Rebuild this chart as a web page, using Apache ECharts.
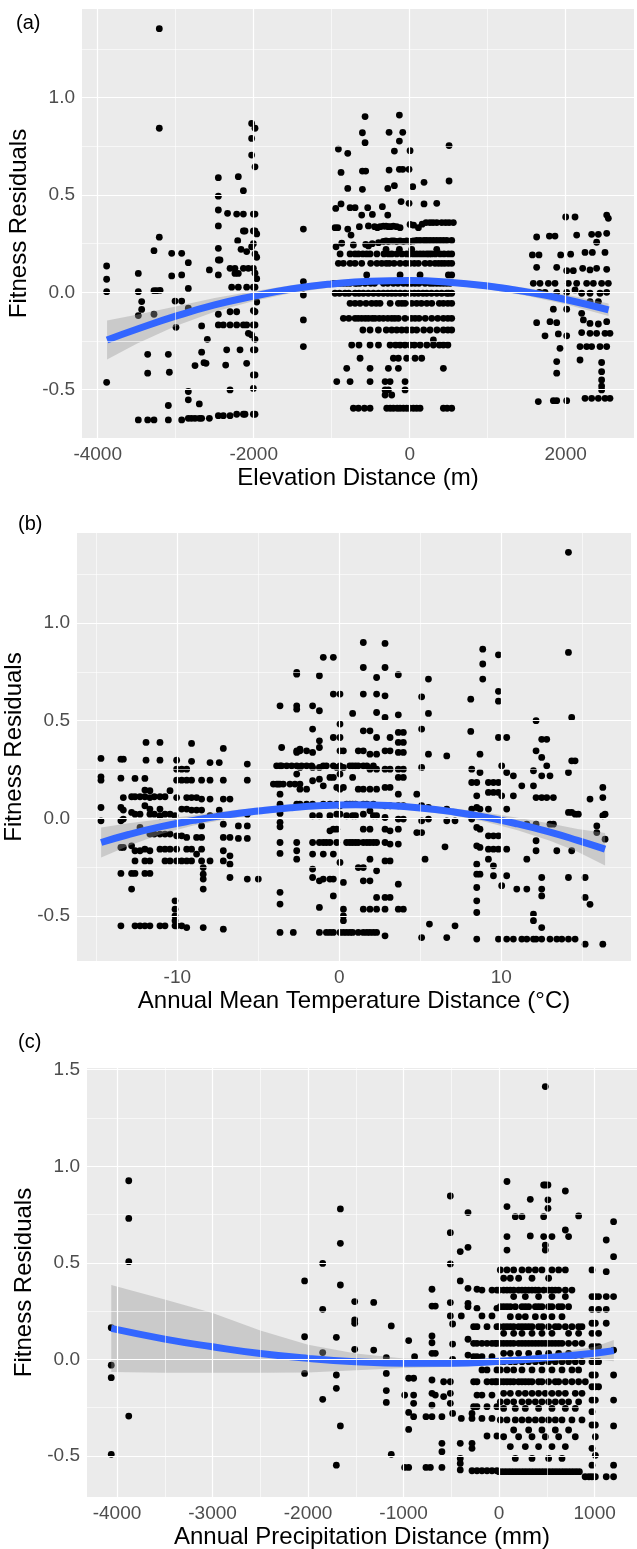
<!DOCTYPE html>
<html><head><meta charset="utf-8">
<script src="https://cdn.jsdelivr.net/npm/echarts@6/dist/echarts.min.js"></script>
<style>html,body{margin:0;padding:0;background:#fff}#c{width:637px;height:1549px}</style>
</head><body><div id="c"></div>
<script>
// ---------- Panel (a): Elevation distance ----------
const elevLeftCols = [
[-3885,[0.135,0.067,0.003,-0.463]],
[-3479,[0.097,0.003,-0.120,-0.656]],
[-3436,[-0.048,-0.088]],
[-3359,[-0.319,-0.416,-0.656]],
[-3278,[0.214,0.008,-0.113,-0.656]],
[-3245,[0.008]],
[-3210,[1.355,0.843,0.283]],
[-3200,[0.010]],
[-3094,[-0.319,-0.582,-0.656]],
[-3081,[-0.411]],
[-3051,[0.200,0.084]],
[-3008,[-0.045]],
[-2996,[-0.180]],
[-2923,[0.200,0.089,-0.045,-0.656]],
[-2838,[0.152,0.020,-0.082,-0.510,-0.553,-0.648]],
[-2797,[-0.648]],
[-2752,[-0.377,-0.648]],
[-2697,[-0.574,-0.648]],
[-2667,[-0.308,-0.173,-0.648]],
[-2637,[-0.362]],[-2611,[-0.365]],[-2594,[-0.242]],
[-2568,[0.115,-0.648]],
[-2453,[0.589,0.494,0.423,0.341,0.226,0.166,0.089,-0.113,-0.168,-0.634]],
[-2432,[0.166]],
[-2389,[-0.168,-0.634]],
[-2359,[-0.374]],[-2346,[-0.296]],[-2335,[0.406]],
[-2303,[0.123,-0.100,-0.168,-0.502,-0.634]],
[-2282,[0.026]],
[-2240,[0.123,0.097]],
[-2218,[0.402,-0.100,-0.168,-0.627]],
[-2205,[0.265]],
[-2197,[0.594,0.097,0.026]],
[-2175,[-0.296]],[-2162,[0.221]],
[-2132,[0.522,0.402,0.315,0.123,-0.168,-0.627]],
[-2111,[0.315,-0.627]],
[-2090,[0.209,0.026,-0.168,-0.365]],
[-2068,[0.123,-0.211]],
[-2026,[0.868,0.791,0.705,0.234,-0.219]],
[-2004,[0.402,0.315,0.250,0.123,0.026,-0.094,-0.168,-0.296,-0.425,-0.494,-0.627]],
[-1983,[0.843,0.645,0.402,0.315,0.197,0.098,0.026,-0.100,-0.168,-0.242,-0.296,-0.425,-0.627]],
[-1961,[0.300,0.180,0.070,-0.050]],
[-1363,[0.325,0.055,-0.014,-0.142,-0.279]]
];
const elevUpperPts = [
[-572,0.903],[-132,0.911],[-606,0.820],[-572,0.769],[-264,0.822],[-89,0.822],[-132,0.777],[-914,0.736],[-794,0.714],[-196,0.726],[5,0.728],[505,0.754],
[-880,0.616],[-606,0.623],[-564,0.623],[-264,0.628],[-132,0.632],[-89,0.632],[-8,0.632],
[-794,0.534],[-606,0.529],[-281,0.534],[-196,0.548],[39,0.543],[184,0.565],[505,0.572],
[-110,0.466],[-8,0.457],[184,0.454],[347,0.457],
[-948,0.431],[-880,0.454],[-764,0.435],[-700,0.435],[-538,0.435],[-350,0.440],
[-615,0.397],[-478,0.400],[-281,0.397],
[-957,0.332],[-922,0.332],[-794,0.325],[-645,0.337],[-529,0.341],[-450,0.337],[-414,0.332],[-380,0.337],[-337,0.340],[-303,0.340],[-273,0.337],[-245,0.337],[-209,0.340],[-166,0.337],[-123,0.332],[5,0.349],[50,0.345],[112,0.332],[160,0.350],[210,0.358],[260,0.358],[300,0.358],[347,0.358],[411,0.358],[460,0.358],[505,0.358],[560,0.358],
[-752,0.294],
[-944,0.234],[-871,0.252],[-722,0.243],[-564,0.246],[-529,0.238],[-480,0.250],[-400,0.255],[-337,0.262],[-303,0.264],[-273,0.262],[-230,0.264],[-200,0.264],[-166,0.262],[-123,0.264],[-80,0.262],[-38,0.264],[5,0.262],[48,0.264],[90,0.266],[133,0.266],[184,0.266],[219,0.266],[261,0.266],[304,0.266],[347,0.266],[390,0.266],[432,0.266],[475,0.266],[539,0.266],
[-303,0.221],[-132,0.221],[26,0.221],[347,0.221]
];
const elevCentralRows = [
[0.197,[-892,-764,-700,-657,-600,-551,-508,-420,-330,-273,-230,-166,-100,-38,0,48,90,133,175,219,250,283,330,390,440,496,539]],
[0.149,[-914,-850,-764,-700,-615,-500,-420,-358,-300,-261,-200,-123,-50,5,60,112,197,260,325,370,411,450,496,539]],
[0.089,[-551,-123,133,496,539]],
[0.046,[-978,-930,-892,-850,-807,-764,-700,-679,-640,-572,-500,-450,-337,-280,-209,-150,-80,-30,20,69,120,197,260,300,347,390,432,475,518]],
[-0.005,[-957,-900,-829,-780,-700,-650,-594,-530,-465,-400,-337,-280,-230,-180,-123,-60,5,60,112,170,219,280,347,410,475,500,539]],
[-0.057,[-764,-700,-636,-560,-487,-430,-380,-250,-145,-100,-59,26,90,150,220,283,380,432,490,539]],
[-0.134,[-850,-780,-700,-660,-615,-570,-529,-480,-444,-390,-337,-280,-230,-190,-145,-60,20,69,120,200,283,360,432,490,539]],
[-0.194,[-600,-508,-401,-300,-230,-166,-102,-38,30,90,180,261,350,432,490,539]],
[-0.245,[304]],
[-0.271,[-743,-650,-508,-400,-251,-180,-123,-60,5,60,133,220,304,380,432,490]],
[-0.339,[-636,-209,-145,-38,69,154]],
[-0.391,[-807,-508,-273,-145,432]],
[-0.459,[-935,-764,-508,-315,-251,-59]],
[-0.502,[-315,-273,-59]],
[-0.528,[-315,-230]],
[-0.596,[-722,-657,-580,-508,-294,-250,-209,-160,-123,-80,-38,0,48,90,133,432,480,539]]
];
const elevRightPts = [
[1628,0.284],[1791,0.289],[1863,0.289],
[2000,0.387],[2120,0.387],[2526,0.397],[2547,0.380],
[2141,0.294],[2333,0.298],[2419,0.298],[2526,0.303],[2397,0.257],
[1573,0.192],[1658,0.192],[1936,0.192],[2064,0.196],[2248,0.205],[2342,0.205],[2504,0.205],
[1628,0.128],[1885,0.128],[2013,0.111],[2098,0.111],[2218,0.123],[2312,0.115],[2397,0.123],[2526,0.118],
[1585,0.046],[1671,0.046],[1778,0.046],[1863,0.046],[2034,0.046],[2141,0.046],[2269,0.046],[2355,0.046],[2461,0.046],[2547,0.046],
[1662,0.0],[1735,0.0],[1885,0.0],[2013,0.0],[2120,0.012],[2205,-0.005],[2312,-0.005],[2440,-0.005],[2526,0.0],
[2312,-0.048],[2419,-0.048],[1842,-0.087],[2013,-0.087],[2205,-0.108],
[1628,-0.156],[1799,-0.151],[1885,-0.156],[2227,-0.142],[2312,-0.160],[2419,-0.163],[2526,-0.151],
[1735,-0.224],[1906,-0.214],[2013,-0.224],[2205,-0.207],[2312,-0.211],[2397,-0.211],[2504,-0.211],[2568,-0.211],
[1927,-0.288],[2184,-0.279],[2269,-0.279],[2333,-0.279],[2440,-0.279],[2526,-0.279],
[2184,-0.348],[1885,-0.356],[2461,-0.361],
[1885,-0.416],[2461,-0.408],[2461,-0.451],[2461,-0.482],[2461,-0.502],
[1649,-0.562],[1842,-0.557],[1885,-0.557],[2013,-0.557],
[2248,-0.545],[2333,-0.545],[2419,-0.545],[2504,-0.545],[2568,-0.545]
];
const elevFitX = [-3880,-3500,-3000,-2500,-2000,-1500,-1000,-500,0,500,1000,1500,2000,2550];
const elevFit  = [-0.245,-0.19,-0.123,-0.065,-0.02,0.018,0.043,0.057,0.06,0.052,0.032,0.002,-0.037,-0.09];
const elevLo   = [-0.345,-0.265,-0.173,-0.100,-0.045,-0.002,0.026,0.042,0.045,0.037,0.015,-0.018,-0.062,-0.122];
const elevHi   = [-0.145,-0.115,-0.073,-0.030,0.005,0.038,0.060,0.072,0.075,0.067,0.049,0.022,-0.012,-0.058];

// ---------- Panel (b): Annual mean temperature distance ----------
const tempCols = [
[-14.71,[0.307,0.213,0.196,0.056,-0.012]],
[-13.48,[0.303,0.206,0.056,-0.012,-0.148,-0.281,-0.549]],
[-13.33,[0.303,0.107,0.043,-0.003,-0.148]],
[-12.82,[0.111,0.031,-0.140,-0.281,-0.361]],
[-12.61,[0.205,0.111,0.022,-0.165,-0.217,-0.281,-0.549]],
[-12.30,[0.111,0.022,-0.046,-0.165,-0.549]],
[-12.00,[0.205,0.145,0.111,0.065,-0.157,-0.217,-0.281,-0.549]],
[-11.93,[0.389,0.298]],
[-11.69,[0.142,0.107,0.048,0.022,-0.080,-0.165,-0.217,-0.281,-0.549]],
[-11.42,[0.111,0.022,-0.080]],
[-11.07,[0.389,0.298,0.111,0.048,0.014,-0.080,-0.157,-0.549]],
[-10.76,[0.111,0.022,-0.080,-0.157,-0.217,-0.549]],
[-10.45,[0.142,0.022,-0.080,-0.157,-0.217]],
[-10.14,[0.014,-0.421,-0.464,-0.498,-0.523,-0.549]],
[-10.04,[0.298,0.252,0.196,0.107,-0.089,-0.157,-0.217,-0.549]],
[-9.73,[0.252,0.196,0.048,-0.089,-0.217,-0.549]],
[-9.42,[0.252,0.196,0.107,0.048,-0.097,-0.157,-0.217,-0.558]],
[-9.12,[0.384,0.292,0.196,0.107,0.043,-0.157,-0.217]],
[-8.81,[0.107,0.043,-0.097,-0.182]],
[-8.50,[0.196,0.099,0.043,-0.038,-0.097,-0.157,-0.217]],
[-8.40,[-0.251,-0.285,-0.310,-0.361,-0.558]],
[-7.98,[0.286,0.196,0.099,0.014,-0.217]],
[-7.41,[0.286,0.043,0.014]],
[-7.16,[0.358,0.196,0.099,0.014,-0.029,-0.097,-0.165,-0.217,-0.566]],
[-6.75,[0.099,-0.097,-0.191,-0.234,-0.302]],
[-6.23,[-0.038,-0.102]],
[-5.68,[0.278,0.196,0.022,-0.038,-0.102,-0.310]],
[-5.00,[-0.310]],
[-4.07,[0.176]],
[-3.87,[0.269,0.176]],
[-3.77,[0.176]],
[-3.66,[0.576,0.269,0.176,0.124,0.073,0.026,-0.020,-0.043,-0.123,-0.179,-0.378,-0.438,-0.583]],
[-3.56,[0.363,0.269]],
[-3.46,[0.176]],[-3.25,[0.269]],[-3.05,[0.176]],[-2.94,[0.269]],[-2.84,[-0.583]],[-2.74,[0.176]],
[-2.63,[0.747,0.738,0.576,0.559,0.346,0.338,0.269,0.227,0.073,-0.123,-0.165,-0.208]],
[-2.43,[0.355,0.346,0.261,0.176,0.150,0.073]],
[-2.33,[0.269]],
[-2.02,[0.346,0.269,0.150,0.073]],
[-1.71,[0.269]],
[-1.65,[0.576,0.457,0.338,0.261,0.193,0.073,0.014,-0.123,-0.182,-0.259,-0.302]],
[-1.23,[0.730,0.551,0.397,0.363,0.261,0.201,0.014,-0.123,-0.319,-0.455,-0.583]],
[-0.99,[0.824,0.269,0.167,0.073,-0.123,-0.182,-0.310]],
[-0.80,[0.269,-0.123,-0.583]],
[-0.58,[0.210,0.073,0.014,-0.063,-0.123,-0.310,-0.583]],
[-0.37,[0.824,0.636,0.414,0.269,0.210,-0.055,-0.182,-0.310,-0.396,-0.583]],
[-0.16,[0.261,0.159,0.073,0.022,-0.055,-0.123]],
[0.04,[0.636,0.483,0.414,0.346,0.269,0.227,0.150,0.065,0.022,-0.225,-0.583]],
[0.25,[0.346,0.261,0.159,-0.327,-0.464,-0.498,-0.523,-0.583]],
[0.45,[0.073,0.014,-0.123,-0.583]],
[0.65,[0.269,0.073,-0.123,-0.583]],
[0.82,[0.537,0.269,0.210,0.073,0.014,-0.123,-0.583]],
[1.00,[0.269,0.073,0.014,-0.123]],
[1.17,[0.346,0.269,0.150,-0.123,-0.251,-0.583]],
[1.48,[0.900,0.772,0.636,0.448,0.346,0.269,0.150,0.073,0.022,-0.055,-0.123,-0.251,-0.319,-0.464,-0.583]],
[1.70,[0.269,0.073,-0.123,-0.583]],
[1.89,[0.448,0.329,0.252,0.150,0.039,-0.055,-0.123,-0.208,-0.319,-0.464,-0.583]],
[2.10,[0.269,0.073,0.014,-0.123,-0.583]],
[2.30,[0.721,0.636,0.542,0.414,0.329,0.252,0.150,0.014,-0.123,-0.268,-0.404,-0.464,-0.583]],
[2.82,[0.895,0.772,0.627,0.517,0.346,0.252,0.159,0.065,0.005,-0.055,-0.123,-0.217,-0.404,-0.464,-0.600]],
[3.13,[0.414,0.346,0.252,0.159,0.065,-0.063,-0.131,-0.217,-0.404]],
[3.64,[0.735,0.530,0.440,0.389,0.338,0.252,0.210,0.124,0.065,-0.003,-0.055,-0.131,-0.336,-0.464]],
[3.95,[0.440,0.389,0.338,0.252,0.210,0.065,-0.003,-0.464]],
[4.78,[0.124,-0.072]],
[5.08,[0.622,0.457,0.261,0.065,-0.012,-0.072,-0.609]],
[5.29,[-0.208]],
[5.50,[0.713,0.537,0.329,0.056,-0.003]],
[5.56,[-0.540]],
[6.52,[-0.145]],
[6.63,[0.320,0.048,-0.012,-0.609]],
[7.14,[-0.012,-0.549]],
[8.11,[0.610,0.445]],
[8.17,[0.252,0.184,0.048,-0.003]],
[8.48,[0.184,0.116,0.056,-0.046,-0.140,-0.234,-0.285,-0.353,-0.421,-0.481,-0.617]],
[8.68,[0.329,0.235,0.048,-0.055,-0.148,-0.285]],
[8.85,[0.866,0.790,0.713]],
[9.20,[0.184,0.133,0.048,-0.089,-0.157,-0.208]],
[9.51,[0.184,0.133,-0.089,-0.157,-0.242,-0.293]],
[9.82,[0.837,0.650,0.600,0.414,0.184,0.133,-0.089,-0.157,-0.617]],
[10.02,[0.269,0.116,-0.344]],
[10.33,[0.414,0.235,0.048,-0.157,-0.293,-0.617]],
[10.74,[0.218,0.116,-0.617]],
[10.95,[-0.361]],
[11.26,[0.167,-0.617]],
[11.57,[-0.029,-0.208,-0.361,-0.617]],
[11.98,[0.244,0.167,-0.489,-0.523,-0.617]],
[12.14,[0.500,0.346,0.107,-0.029,-0.114,-0.165,-0.617]],
[12.49,[0.405,0.312,0.218,0.107,-0.302,-0.361,-0.396,-0.558,-0.617]],
[12.80,[0.405,0.269,0.107]],
[13.00,[0.218,-0.029,-0.617]],
[13.21,[0.107,-0.029]],
[13.42,[-0.165,-0.617]],
[13.73,[-0.617]],
[14.14,[1.361,0.849,0.235,0.031,-0.302,-0.617]],
[14.34,[0.517,0.295,0.031,-0.165]],
[14.55,[0.295,0.022,-0.617]],
[14.75,[0.022]],
[15.17,[-0.302,-0.404,-0.643]],
[15.47,[0.099,-0.439]],
[15.89,[-0.038,-0.072]],
[16.26,[0.159,0.107,0.014,-0.643]],
[16.40,[0.022,-0.106]]
];
const tempFitX = [-14.7,-13,-11,-9,-7,-5,-3,-1,1,3,5,7,9,11,13,14.7,16.4];
const tempFit  = [-0.123,-0.082,-0.042,-0.010,0.017,0.038,0.055,0.066,0.070,0.066,0.054,0.034,0.007,-0.028,-0.070,-0.112,-0.157];
const tempLo   = [-0.200,-0.140,-0.080,-0.036,-0.004,0.021,0.040,0.051,0.055,0.051,0.038,0.016,-0.017,-0.060,-0.114,-0.170,-0.240];
const tempHi   = [-0.046,-0.024,-0.004,0.016,0.038,0.055,0.070,0.081,0.085,0.081,0.070,0.052,0.031,0.004,-0.026,-0.054,-0.074];

// ---------- Panel (c): Annual precipitation distance ----------
const precCols = [
[-4060,[0.164,-0.030,-0.095,-0.492]],
[-3877,[0.925,0.730,0.506,-0.294]],
[-2036,[0.406,0.117,-0.073]],
[-1847,[0.497,0.259,0.035,-0.207]],
[-1704,[0.114,-0.081,-0.150,-0.548]],
[-1662,[0.779,0.601,0.385,-0.345]],
[-1512,[0.299,0.204,0.187,0.052]],
[-1313,[0.295,0.048]],
[-1181,[0.009,-0.073,-0.162,-0.223]],
[-1129,[0.173,-0.492]],
[-989,[-0.185,-0.560]],
[-947,[0.097,-0.098,-0.275,-0.363,-0.560]],
[-895,[-0.098,-0.185,-0.228,-0.297]],
[-885,[0.014]],
[-766,[-0.297,-0.560]],
[-720,[-0.560]],
[-703,[0.363,0.276,0.121,0.086,0.031,-0.107,-0.176,-0.237,-0.297]],
[-668,[0.276,0.031,-0.185]],
[-599,[-0.297,-0.435,-0.478,-0.560]],
[-581,[-0.116,-0.193]],
[-511,[0.846,0.656,0.494,0.294,0.225,-0.116,-0.176,-0.228]],
[-487,[0.183,0.079,0.000,-0.280]],
[-407,[0.558,0.406,-0.435,-0.513,-0.539,-0.573]],
[-396,[0.225,-0.306]],
[-326,[0.760,0.580,0.368,0.290,0.273,0.104,0.022]],
[-284,[-0.280,-0.306,-0.435,-0.461,-0.577]],
[-267,[0.169,0.083,0.014,-0.116,-0.245]],
[-232,[0.363,0.264,0.169,0.083,0.014,-0.116,-0.185,-0.245,-0.577]],
[-180,[0.359,0.225,0.083,0.014,-0.055,-0.185,-0.306,-0.577]],
[-127,[0.169,0.083,-0.055,-0.116,-0.245,-0.397,-0.577]],
[-75,[0.359,0.225,0.083,0.014,-0.116,-0.185,-0.306,-0.577]],
[-23,[0.359,0.264,0.169,0.083,-0.055,-0.116,-0.245,-0.397,-0.577]],
[82,[0.921,0.791,0.636,0.566]],
[169,[0.739]],[239,[0.739]],
[326,[0.829,0.639]],
[466,[0.903,0.739,0.636]],
[483,[1.413,0.903,0.592,0.566]],
[511,[0.903,0.826,0.782]],
[553,[0.636]],
[693,[0.872,0.670]],
[727,[0.636]],
[832,[0.743]],
[972,[0.463,0.325,0.259,0.187,0.135,0.066,-0.012,-0.081,-0.142,-0.211,-0.271,-0.340,-0.461,-0.548,-0.608]],
[1007,[0.325,0.187,0.066,-0.012,-0.081,-0.142,-0.211,-0.340,-0.401,-0.497,-0.608]],
[1041,[0.325,0.259,0.135,0.066,-0.012,-0.142]],
[1121,[0.618,0.454,0.325,0.259,0.187,-0.608]],
[1198,[0.713,0.532,0.325,0.048,-0.081,-0.211,-0.345,-0.548,-0.608]]
];
const precRows = [
[0.463,[12,82,152,239,309,379,448,553,623,693]],
[0.420,[47,117,204,344,518]],
[0.359,[0,47,82,117,152,204,239,274,309,344,379,413,466,518,553,588,623,693,762]],
[0.325,[152,274,413,553,693]],
[0.273,[12,47,82,117,169,239,274,309,379,413,448,518,553,623,658,727]],
[0.221,[117,204,274,379,466,553,658]],
[0.169,[0,47,82,117,152,204,239,274,309,344,413,448,518,588,623,693,762,832,867]],
[0.135,[47,152,239,344,448,553,727,832]],
[0.083,[-40,12,47,82,117,152,204,239,274,309,344,379,413,448,483,518,553,588,623,658,727,797,867]],
[0.031,[47,117,204,309,413,518,623,727]],
[-0.012,[0,47,117,169,239,309,379,448,518,588,658,727,797,867]],
[-0.055,[12,82,152,239,344,448,553,658,762,832]],
[-0.116,[-40,12,47,82,117,152,204,239,274,309,344,413,448,518,588,623,693,762,832,902]],
[-0.176,[47,117,204,274,344,413,483,553,623,693,797,867]],
[-0.220,[12,82,152,239,309,379,448,518,588,658,727,832]],
[-0.254,[47,169,274,413,553,693,797]],
[-0.314,[12,82,169,239,309,379,448,518,588,658,762,867]],
[-0.366,[152,309,448,588,727]],
[-0.401,[47,204,344,483,623,797]],
[-0.452,[117,274,413,553,693]],
[-0.513,[169,344,518,658]],
[-0.582,[0,35,70,105,140,175,210,245,280,315,350,385,420,455,490,525,560,595,630,665,700,735,770,805,840]],
[-0.608,[900,940]]
];
const precFitX = [-4060,-3500,-3000,-2500,-2000,-1500,-1000,-500,0,500,1000,1200];
const precFit  = [0.16,0.105,0.065,0.03,0.005,-0.012,-0.02,-0.02,-0.01,0.008,0.032,0.045];
const precLo   = [-0.065,-0.07,-0.07,-0.07,-0.068,-0.056,-0.045,-0.038,-0.027,-0.01,0.0,-0.01];
const precHi   = [0.385,0.31,0.24,0.15,0.075,0.03,0.005,-0.002,0.007,0.026,0.065,0.10];

// ---------- tick labels / gridlines ----------
const elevTicksX = [-4000,-2000,0,2000], elevMinorX = [-3000,-1000,1000];
const tempTicksX = [-10,0,10],           tempMinorX = [-15,-5,5,15];
const precTicksX = [-4000,-3000,-2000,-1000,0,1000], precMinorX = [-3500,-2500,-1500,-500,500];
const resTicksAB = [-0.5,0,0.5,1.0], resMinorAB = [-0.25,0.25,0.75,1.25];
const resTicksC  = [-0.5,0,0.5,1.0,1.5], resMinorC = [-0.25,0.25,0.75,1.25];

// ---------- build ----------
const FONT = "'Liberation Sans', Arial, Helvetica, sans-serif";
function fromCols(cols){const o=[];cols.forEach(c=>c[1].forEach(y=>o.push([c[0],y])));return o;}
function fromRows(rows){const o=[];rows.forEach(r=>r[1].forEach(x=>o.push([x,r[0]])));return o;}

const elevPts = fromCols(elevLeftCols).concat(elevUpperPts, fromRows(elevCentralRows), elevRightPts);
const tempPts = fromCols(tempCols);
const precPts = fromCols(precCols).concat(fromRows(precRows));

const grids = [
  {left:82, top:9,    width:552, height:429},
  {left:77, top:533,  width:554, height:428},
  {left:87, top:1068, width:550, height:429}
].map(g=>Object.assign(g,{show:true, backgroundColor:'#EBEBEB', borderWidth:0, containLabel:false, outerBoundsMode:'none'}));

function xAx(i,min,max,ticks,name){
  return {gridIndex:i, type:'value', min:min, max:max, name:name, nameLocation:'middle', nameGap:28,
    nameTextStyle:{fontSize:24, color:'#000', fontFamily:FONT},
    axisLine:{show:false},
    axisTick:{show:true, length:4, customValues:ticks, lineStyle:{color:'#333', width:1}},
    axisLabel:{show:true, customValues:ticks, fontSize:19, color:'#4D4D4D', fontFamily:FONT, margin:7, formatter:v=>String(v)},
    splitLine:{show:false}, minorSplitLine:{show:false}};
}
function yAx(i,min,max,ticks,gap){
  return {gridIndex:i, type:'value', min:min, max:max, name:'Fitness Residuals', nameLocation:'middle', nameGap:gap, nameRotate:90,
    nameTextStyle:{fontSize:24, color:'#000', fontFamily:FONT},
    axisLine:{show:false},
    axisTick:{show:true, length:4, customValues:ticks, lineStyle:{color:'#333', width:1}},
    axisLabel:{show:true, customValues:ticks, fontSize:19, color:'#4D4D4D', fontFamily:FONT, margin:7, formatter:v=>v.toFixed(1)},
    splitLine:{show:false}, minorSplitLine:{show:false}};
}
function gridLines(i,majX,minX,majY,minY){
  const d=[];
  minX.forEach(v=>d.push({xAxis:v, lineStyle:{width:0.6}}));
  minY.forEach(v=>d.push({yAxis:v, lineStyle:{width:0.6}}));
  majX.forEach(v=>d.push({xAxis:v, lineStyle:{width:1.2}}));
  majY.forEach(v=>d.push({yAxis:v, lineStyle:{width:1.2}}));
  return {type:'scatter', xAxisIndex:i, yAxisIndex:i, data:[], z:1, silent:true,
    markLine:{silent:true, symbol:['none','none'], animation:false, label:{show:false},
      lineStyle:{color:'#FFFFFF', type:'solid', opacity:1}, emphasis:{disabled:true}, data:d}};
}
function points(i,data){
  return {type:'scatter', xAxisIndex:i, yAxisIndex:i, data:data, symbol:'circle', symbolSize:6.8, z:2, silent:true,
    itemStyle:{color:'#000', borderWidth:0, opacity:1}};
}
function band(i,xs,lo,hi){
  return {type:'custom', xAxisIndex:i, yAxisIndex:i, z:3, silent:true, data:[[xs[0],lo[0]]],
    renderItem:function(params,api){
      const pts=[];
      for(let k=0;k<xs.length;k++) pts.push(api.coord([xs[k],hi[k]]));
      for(let k=xs.length-1;k>=0;k--) pts.push(api.coord([xs[k],lo[k]]));
      return {type:'polygon', shape:{points:pts}, style:{fill:'rgba(153,153,153,0.4)'}};
    }};
}
function fitLine(i,xs,ys){
  return {type:'line', xAxisIndex:i, yAxisIndex:i, data:xs.map((x,k)=>[x,ys[k]]), smooth:true, showSymbol:false, symbol:'none',
    z:4, silent:true, lineStyle:{color:'#3366FF', width:7, cap:'butt'}};
}

const option = {
  animation:false,
  backgroundColor:'#FFFFFF',
  grid: grids,
  xAxis:[
    xAx(0,-4201,2876,elevTicksX,'Elevation Distance (m)'),
    xAx(1,-16.19,18.0,tempTicksX,'Annual Mean Temperature Distance (°C)'),
    xAx(2,-4314,1443,precTicksX,'Annual Precipitation Distance (mm)')
  ],
  yAxis:[
    yAx(0,-0.749,1.456,resTicksAB,40),
    yAx(1,-0.729,1.46,resTicksAB,41),
    yAx(2,-0.713,1.509,resTicksC,40)
  ],
  graphic:[
    {type:'text', left:16, top:13, style:{text:'(a)', font:"20px 'Liberation Sans', Arial, sans-serif", fill:'#000'}},
    {type:'text', left:18, top:514, style:{text:'(b)', font:"20px 'Liberation Sans', Arial, sans-serif", fill:'#000'}},
    {type:'text', left:18, top:1032, style:{text:'(c)', font:"20px 'Liberation Sans', Arial, sans-serif", fill:'#000'}}
  ],
  series:[
    gridLines(0,elevTicksX,elevMinorX,resTicksAB,resMinorAB),
    gridLines(1,tempTicksX,tempMinorX,resTicksAB,resMinorAB),
    gridLines(2,precTicksX,precMinorX,resTicksC,resMinorC),
    points(0,elevPts), points(1,tempPts), points(2,precPts),
    band(0,elevFitX,elevLo,elevHi), band(1,tempFitX,tempLo,tempHi), band(2,precFitX,precLo,precHi),
    fitLine(0,elevFitX,elevFit), fitLine(1,tempFitX,tempFit), fitLine(2,precFitX,precFit)
  ]
};
const chart = echarts.init(document.getElementById('c'), null, {renderer:'canvas', width:637, height:1549});
chart.setOption(option);
</script></body></html>
